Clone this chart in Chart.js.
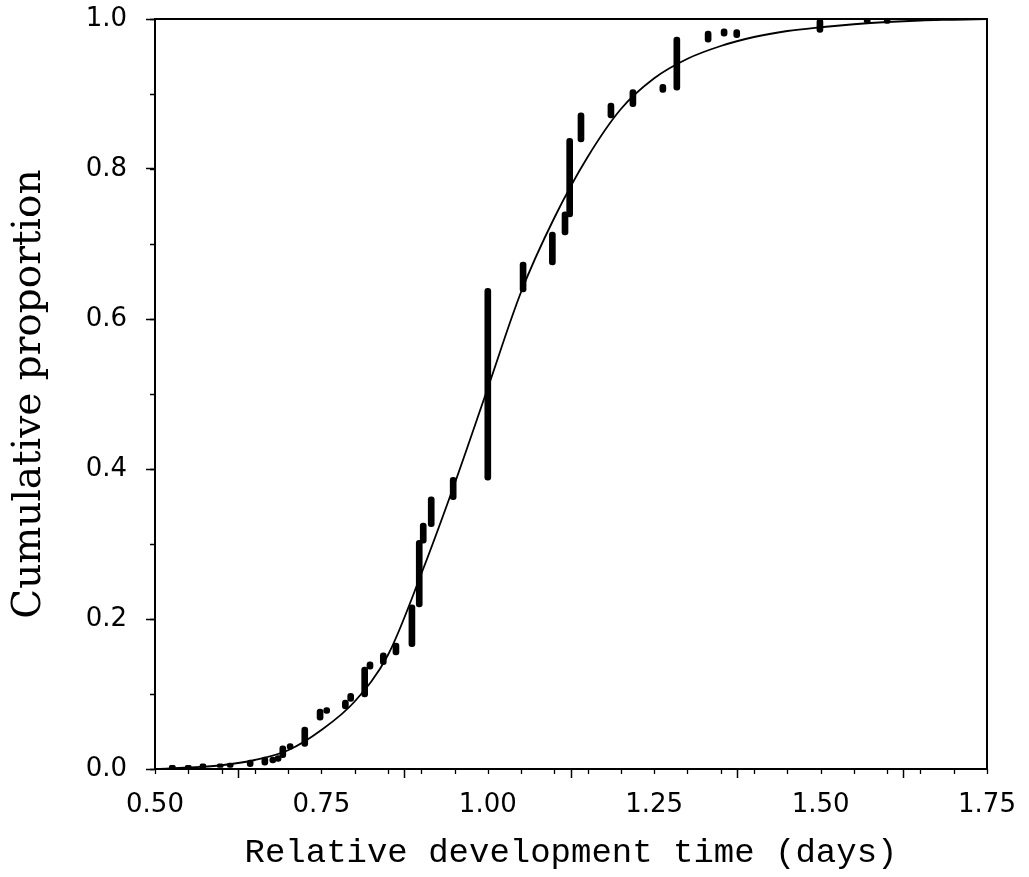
<!DOCTYPE html>
<html>
<head>
<meta charset="utf-8">
<script src="https://cdn.jsdelivr.net/npm/chart.js@4.4.1/dist/chart.umd.min.js"></script>
<style>
  html, body { margin: 0; padding: 0; background: #fff; }
  #wrap { width: 1029px; height: 877px; }
</style>
</head>
<body>
<div id="wrap"><canvas id="cdfChart" width="1029" height="877"></canvas></div>
<script>
// Observed cumulative proportions: one vertical bar per development time
const barX    = [0.526, 0.550, 0.572, 0.598, 0.613, 0.643, 0.665, 0.677, 0.685, 0.692,
                 0.703, 0.725, 0.748, 0.758, 0.786, 0.794, 0.815, 0.823, 0.843, 0.862,
                 0.886, 0.897, 0.903, 0.915, 0.948, 1.000, 1.053, 1.097, 1.116, 1.123,
                 1.140, 1.185, 1.218, 1.263, 1.284, 1.331, 1.355, 1.374, 1.499, 1.570, 1.600];
const barLow  = [0.000, 0.000, 0.001, 0.002, 0.002, 0.003, 0.005, 0.008, 0.010, 0.015,
                 0.026, 0.030, 0.065, 0.074, 0.080, 0.090, 0.096, 0.133, 0.139, 0.152,
                 0.163, 0.216, 0.301, 0.323, 0.359, 0.385, 0.636, 0.672, 0.712, 0.736,
                 0.836, 0.868, 0.883, 0.902, 0.905, 0.969, 0.977, 0.975, 0.982, 0.995, 0.994];
const barHigh = [0.005, 0.005, 0.007, 0.007, 0.008, 0.012, 0.016, 0.016, 0.018, 0.031,
                 0.034, 0.056, 0.080, 0.082, 0.092, 0.101, 0.136, 0.143, 0.155, 0.168,
                 0.219, 0.305, 0.328, 0.363, 0.389, 0.641, 0.676, 0.716, 0.743, 0.841,
                 0.875, 0.888, 0.906, 0.913, 0.976, 0.984, 0.987, 0.986, 1.000, 1.000, 1.000];

// Fitted curve
const curveX = [0.50, 0.55, 0.60, 0.65, 0.70, 0.75, 0.80, 0.85, 0.90, 0.95, 1.00, 1.05, 1.10,
                1.15, 1.20, 1.25, 1.30, 1.35, 1.40, 1.45, 1.50, 1.55, 1.60, 1.65, 1.70, 1.75];
const curveY = [0.000, 0.002, 0.005, 0.012, 0.025, 0.052, 0.090, 0.152, 0.260, 0.380, 0.508, 0.636, 0.735,
                0.816, 0.880, 0.921, 0.947, 0.964, 0.976, 0.984, 0.989, 0.993, 0.996, 0.998, 0.999, 1.000];

// Axis ticks
const xTickLabels = ['0.50', '0.75', '1.00', '1.25', '1.50', '1.75'];
const yTickLabels = ['0.0', '0.2', '0.4', '0.6', '0.8', '1.0'];
const xMinorStep = 0.05;
const yMinorStep = 0.1;

const INK = '#000';

// Frame (top/right) and short minor ticks
const framePlugin = {
  id: 'frameTicks',
  afterDraw(chart) {
    const { ctx, chartArea: a, scales } = chart;
    ctx.save();
    ctx.strokeStyle = INK;
    ctx.lineWidth = 2;
    ctx.beginPath();
    ctx.moveTo(a.left, a.top);
    ctx.lineTo(a.right, a.top);
    ctx.lineTo(a.right, a.bottom);
    ctx.stroke();

    ctx.lineWidth = 1.3;
    ctx.beginPath();
    const xs = scales.x;
    for (let v = xs.min; v <= xs.max + 1e-9; v += xMinorStep) {
      const px = Math.round(xs.getPixelForValue(v)) + 0.5;
      ctx.moveTo(px, a.bottom);
      ctx.lineTo(px, a.bottom + 5);
    }
    const ys = scales.y;
    for (let v = ys.min; v <= ys.max + 1e-9; v += yMinorStep) {
      const py = Math.round(ys.getPixelForValue(v)) + 0.5;
      ctx.moveTo(a.left, py);
      ctx.lineTo(a.left - 5, py);
    }
    ctx.stroke();
    ctx.restore();
  }
};

const barData = barX.map((x, i) => ({ x: x, y: [barLow[i], barHigh[i]] }));
const curveData = curveX.map((x, i) => ({ x: x, y: curveY[i] }));

new Chart(document.getElementById('cdfChart'), {
  type: 'bar',
  data: {
    datasets: [
      {
        type: 'bar',
        label: 'Observed',
        data: barData,
        backgroundColor: INK,
        borderWidth: 0,
        borderSkipped: false,
        borderRadius: 3,
        barThickness: 6,
        grouped: false
      },
      {
        type: 'line',
        label: 'Fitted',
        data: curveData,
        borderColor: INK,
        borderWidth: 1.8,
        pointRadius: 0,
        cubicInterpolationMode: 'monotone',
        fill: false
      }
    ]
  },
  options: {
    responsive: false,
    animation: false,
    devicePixelRatio: 1,
    layout: { padding: { top: 19, right: 42, bottom: 0, left: 0 } },
    plugins: {
      legend: { display: false },
      tooltip: { enabled: false }
    },
    scales: {
      x: {
        type: 'linear',
        min: 0.5,
        max: 1.75,
        offset: false,
        afterFit: (scale) => {
          scale.height = 108;
          scale.paddingLeft = 0;
          scale.paddingRight = 0;
        },
        afterBuildTicks: (scale) => {
          scale.ticks = xTickLabels.map(t => ({ value: parseFloat(t) }));
        },
        ticks: {
          autoSkip: false,
          maxRotation: 0,
          padding: 12,
          color: INK,
          font: { family: '"DejaVu Sans"', size: 26 },
          callback: (value, index) => xTickLabels[index]
        },
        grid: {
          drawOnChartArea: false,
          drawTicks: true,
          tickLength: 9,
          tickColor: INK,
          tickWidth: 1.5
        },
        border: { display: true, color: INK, width: 2 },
        title: {
          display: true,
          text: 'Relative development time (days)',
          color: INK,
          font: { family: '"Liberation Mono"', size: 34 },
          padding: { top: 0, bottom: 4 }
        }
      },
      y: {
        type: 'linear',
        min: 0,
        max: 1,
        afterFit: (scale) => {
          scale.width = 155;
          scale.paddingTop = 0;
          scale.paddingBottom = 0;
        },
        afterBuildTicks: (scale) => {
          scale.ticks = yTickLabels.map(t => ({ value: parseFloat(t) }));
        },
        ticks: {
          autoSkip: false,
          padding: 19,
          color: INK,
          font: { family: '"DejaVu Sans"', size: 26 },
          callback: (value, index) => yTickLabels[index]
        },
        grid: {
          drawOnChartArea: false,
          drawTicks: true,
          tickLength: 9,
          tickColor: INK,
          tickWidth: 1.5
        },
        border: { display: true, color: INK, width: 2 },
        title: {
          display: true,
          text: 'Cumulative proportion',
          color: INK,
          font: { family: '"DejaVu Serif"', size: 39 },
          padding: { top: 6, bottom: 0 }
        }
      }
    }
  },
  plugins: [framePlugin]
});
</script>
</body>
</html>
